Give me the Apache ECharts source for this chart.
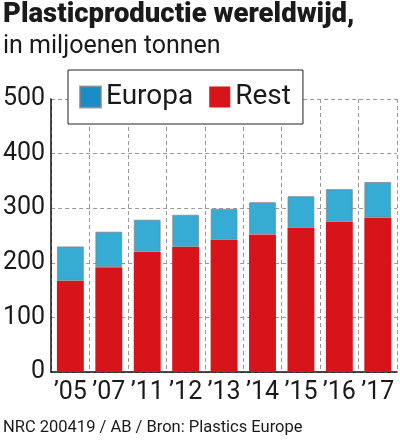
<!DOCTYPE html>
<html>
<head>
<meta charset="utf-8">
<script src="https://cdn.jsdelivr.net/npm/echarts@6/dist/echarts.min.js"></script>
<style>
  html, body { margin: 0; padding: 0; background: #fff; }
  #chart { width: 400px; height: 440px; }
</style>
</head>
<body>
<div id="chart"></div>
<script>
// jaren (as-labels)
var years = ['\u201905', '\u201907', '\u201911', '\u201912', '\u201913', '\u201914', '\u201915', '\u201916', '\u201917'];
// miljoenen tonnen
var rest = [167, 192, 220, 229, 242, 252, 264, 275, 283];
var europa = [63, 65, 59, 59, 57, 59, 58, 60, 65];
var yTicks = [0, 100, 200, 300, 400, 500];

var font = 'Roboto, "Noto Sans", sans-serif';

var myChart = echarts.init(document.getElementById('chart'));

var option = {
    animation: false,
    title: {
        text: 'Plasticproductie wereldwijd,',
        subtext: 'in miljoenen tonnen',
        left: 0,
        top: 1,
        padding: [0, 3],
        itemGap: 5,
        textStyle: { fontFamily: font, fontSize: 27.5, fontWeight: 900, color: '#1a1a1a' },
        subtextStyle: { fontFamily: font, fontSize: 25, color: '#1a1a1a' }
    },
    legend: {
        data: [
            { name: 'Europa', itemStyle: { color: '#1a8dc8' } },
            { name: 'Rest', itemStyle: { color: '#d7141a' } }
        ],
        left: 68,
        top: 70,
        padding: [13, 12, 13, 11],
        itemWidth: 21,
        itemHeight: 21,
        itemGap: 16,
        icon: 'rect',
        backgroundColor: '#fff',
        borderColor: '#222',
        borderWidth: 1,
        borderRadius: 0,
        textStyle: { fontFamily: font, fontSize: 28, color: '#1a1a1a' }
    },
    grid: { left: 49, right: 3, top: 99, bottom: 68 },
    xAxis: {
        type: 'category',
        data: years,
        axisLine: { lineStyle: { color: '#111', width: 1.5 } },
        axisTick: { show: false },
        axisLabel: { interval: 0, fontFamily: font, fontSize: 25, color: '#1a1a1a', margin: 8 },
        splitLine: { show: true, interval: 0, lineStyle: { color: '#999', type: [4, 3], width: 1 } }
    },
    yAxis: {
        type: 'value',
        min: yTicks[0],
        max: yTicks[yTicks.length - 1],
        interval: 100,
        axisLine: { show: true, lineStyle: { color: '#111', width: 1.5 } },
        axisTick: { show: false },
        axisLabel: { fontFamily: font, fontSize: 25, color: '#1a1a1a', margin: 6 },
        splitLine: { show: true, lineStyle: { color: '#999', type: [4, 3], width: 1 } }
    },
    series: [
        {
            name: 'Rest',
            type: 'bar',
            stack: 'totaal',
            data: rest,
            barCategoryGap: '30%',
            itemStyle: { color: '#d7141a' }
        },
        {
            name: 'Europa',
            type: 'bar',
            stack: 'totaal',
            data: europa,
            barCategoryGap: '30%',
            itemStyle: { color: '#36abd3', borderColor: 'rgba(130,130,130,0.7)', borderWidth: 1 }
        }
    ],
    graphic: [
        {
            type: 'text',
            left: 3,
            top: 419,
            style: { text: 'NRC 200419 / AB / Bron: Plastics Europe', fontFamily: font, fontSize: 16.5, fill: '#1a1a1a' }
        }
    ]
};

myChart.setOption(option);
</script>
</body>
</html>
